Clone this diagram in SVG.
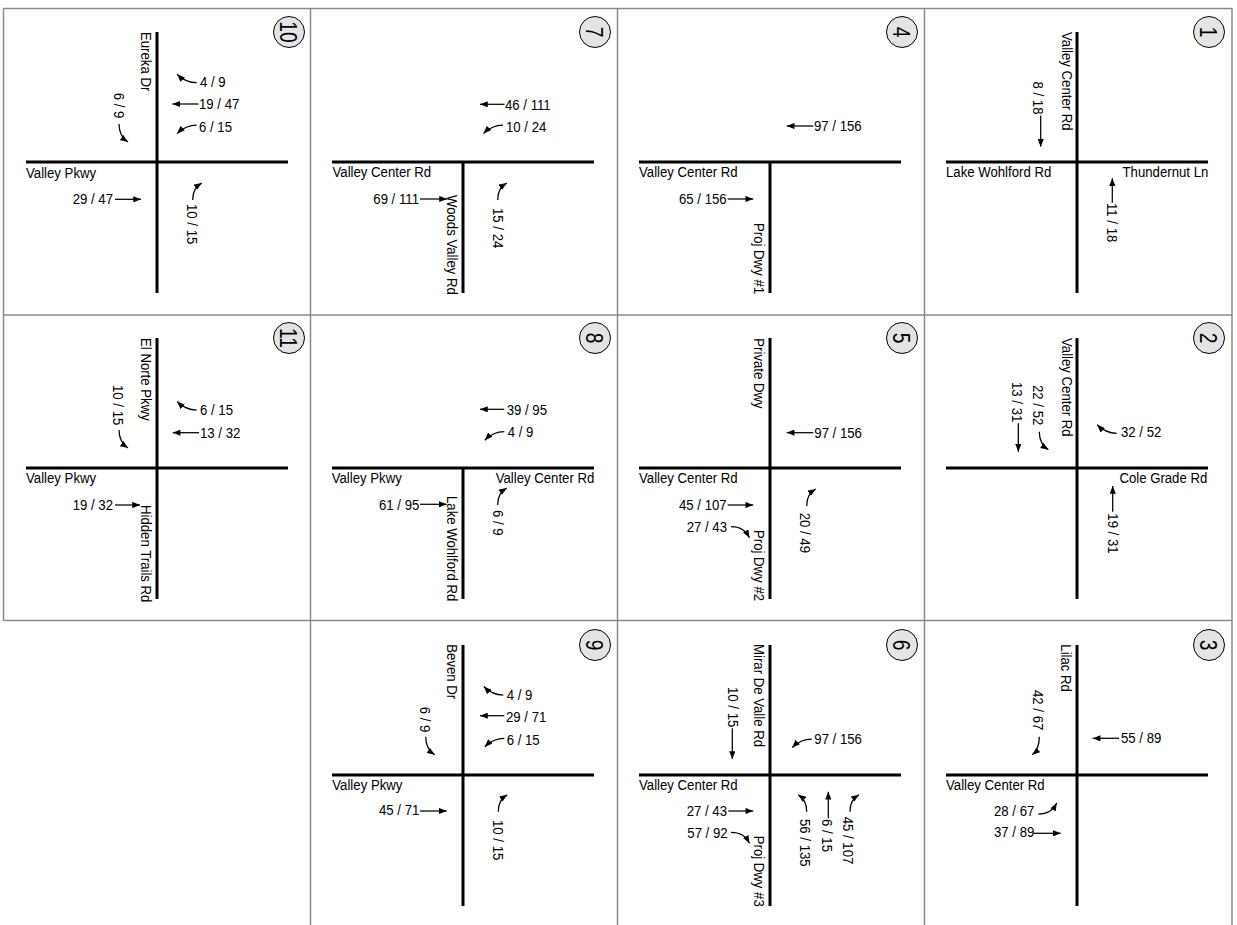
<svg xmlns="http://www.w3.org/2000/svg" width="1237" height="925" viewBox="0 0 1237 925">
<style>
.grid{stroke:#8a8a8a;stroke-width:1.5;fill:none}
.road{stroke:#000;stroke-width:3;fill:none}
.arr{stroke:#000;stroke-width:1.25;fill:none;marker-end:url(#ah)}
.lbl{font-family:'Liberation Sans',Arial,sans-serif;font-size:15px;fill:#000}
.end{text-anchor:end}
.badge{fill:#e4e4e4;stroke:#000;stroke-width:1}
.num{font-family:'Liberation Sans',Arial,sans-serif;font-size:24px;fill:#000;text-anchor:middle}
</style>
<defs>
<marker id="ah" viewBox="0 0 10 8" refX="10" refY="4" markerWidth="8" markerHeight="6.2" orient="auto" markerUnits="userSpaceOnUse"><path d="M0,0 L10,4 L0,8 z" fill="#000"/></marker>
</defs>
<rect width="1237" height="925" fill="#fff"/>
<g id="grid"><path class="grid" d="M3,8.5 H1232 M3,315 H1232 M3,620.5 H1232 M3.5,8 V620.5 M310.5,8 V925 M617.5,8 V925 M924.5,8 V925 M1232,8 V925"/></g>

<g id="int10" transform="translate(157,162)">
<path class="road" d="M0,-130 V131 M-131,0 H131"/>
<circle class="badge" cx="132" cy="-130" r="15.5"/><text class="num" transform="translate(132,-130) rotate(90) scale(.8,1)" y="8.6">10</text>
<text class="lbl" transform="translate(-16,-130) rotate(90) scale(.88,1)">Eureka Dr</text>
<text class="lbl" transform="translate(43,-75) scale(.88,1)">4 / 9</text>
<text class="lbl" transform="translate(42,-52.7) scale(.88,1)">19 / 47</text>
<text class="lbl" transform="translate(42,-30.3) scale(.88,1)">6 / 15</text>
<text class="lbl" transform="translate(-43.5,-69.3) rotate(90) scale(.88,1)">6 / 9</text>
<text class="lbl" transform="translate(-131,16.3) scale(.88,1)">Valley Pkwy</text>
<text class="lbl" transform="translate(-84.3,42) scale(.88,1)">29 / 47</text>
<text class="lbl" transform="translate(30,42) rotate(90) scale(.88,1)">10 / 15</text>
<g class="moves">
<path class="arr" d="M39.7,-79.3 c-9,0 -14,-3 -19.5,-8.5"/>
<path class="arr" d="M41.5,-58 H15.5"/>
<path class="arr" d="M39.7,-37 c-9,0 -14,3 -19.5,8.5"/>
<path class="arr" d="M-38,-38 c0,9 3,14 9,18"/>
<path class="arr" d="M-42,37.3 H-16"/>
<path class="arr" d="M35.7,38 c0,-9 3,-13 9,-17"/>
</g>
</g>

<g id="int7" transform="translate(463,162)">
<path class="road" d="M0,0 V131 M-131,0 H131"/>
<circle class="badge" cx="132" cy="-130" r="15.5"/><text class="num" transform="translate(132,-130) rotate(90) scale(.8,1)" y="8.6">7</text>
<text class="lbl" transform="translate(42,-52) scale(.88,1)">46 / 111</text>
<text class="lbl" transform="translate(43,-30.3) scale(.88,1)">10 / 24</text>
<text class="lbl" transform="translate(-130.5,14.7) scale(.88,1)">Valley Center Rd</text>
<text class="lbl" transform="translate(-89.7,42) scale(.88,1)">69 / 111</text>
<text class="lbl" transform="translate(-16,33) rotate(90) scale(.88,1)">Woods Valley Rd</text>
<text class="lbl" transform="translate(30,46) rotate(90) scale(.88,1)">15 / 24</text>
<g class="moves">
<path class="arr" d="M41.5,-57.7 H17"/>
<path class="arr" d="M40,-37 c-9,0 -14,3 -19.5,8.5"/>
<path class="arr" d="M-43,37 H-16"/>
<path class="arr" d="M34.7,38 c0,-9 3,-13 9,-17"/>
</g>
</g>

<g id="int4" transform="translate(770,162)">
<path class="road" d="M0,0 V131 M-131,0 H131"/>
<circle class="badge" cx="132" cy="-130" r="15.5"/><text class="num" transform="translate(132,-130) rotate(90) scale(.8,1)" y="8.6">4</text>
<text class="lbl" transform="translate(44,-31.3) scale(.88,1)">97 / 156</text>
<text class="lbl" transform="translate(-131,14.7) scale(.88,1)">Valley Center Rd</text>
<text class="lbl" transform="translate(-91,42) scale(.88,1)">65 / 156</text>
<text class="lbl" transform="translate(-16,61) rotate(90) scale(.88,1)">Proj Dwy #1</text>
<g class="moves">
<path class="arr" d="M43.3,-36 H16.7"/>
<path class="arr" d="M-42.3,37 H-16.7"/>
</g>
</g>

<g id="int1" transform="translate(1077,162)">
<path class="road" d="M0,-130 V131 M-131,0 H131"/>
<circle class="badge" cx="132" cy="-130" r="15.5"/><text class="num" transform="translate(132,-130) rotate(90) scale(.8,1)" y="8.6">1</text>
<text class="lbl" transform="translate(-15.5,-130) rotate(90) scale(.88,1)">Valley Center Rd</text>
<text class="lbl" transform="translate(-43.7,-80.5) rotate(90) scale(.88,1)">8 / 18</text>
<text class="lbl" transform="translate(-131,14.7) scale(.88,1)">Lake Wohlford Rd</text>
<text class="lbl end" transform="translate(131.3,14.7) scale(.88,1)">Thundernut Ln</text>
<text class="lbl" transform="translate(30.3,41) rotate(90) scale(.88,1)">11 / 18</text>
<g class="moves">
<path class="arr" d="M-36.3,-46.5 V-15.3"/>
<path class="arr" d="M35.3,40.7 V16.3"/>
</g>
</g>

<g id="int11" transform="translate(157,468)">
<path class="road" d="M0,-130 V131 M-131,0 H131"/>
<circle class="badge" cx="132" cy="-130" r="15.5"/><text class="num" transform="translate(132,-130) rotate(90) scale(.8,1)" y="8.6">11</text>
<text class="lbl" transform="translate(-16,-130) rotate(90) scale(.88,1)">El Norte Pkwy</text>
<text class="lbl" transform="translate(43,-53) scale(.88,1)">6 / 15</text>
<text class="lbl" transform="translate(43,-29.7) scale(.88,1)">13 / 32</text>
<text class="lbl" transform="translate(-43.7,-83) rotate(90) scale(.88,1)">10 / 15</text>
<text class="lbl" transform="translate(-131,15.3) scale(.88,1)">Valley Pkwy</text>
<text class="lbl" transform="translate(-84.3,42) scale(.88,1)">19 / 32</text>
<text class="lbl" transform="translate(-16,37) rotate(90) scale(.88,1)">Hidden Trails Rd</text>
<g class="moves">
<path class="arr" d="M39.7,-58 c-9,0 -14,-3 -19.5,-8.5"/>
<path class="arr" d="M42,-35.3 H15.7"/>
<path class="arr" d="M-38,-38 c0,9 3,14 9,18"/>
<path class="arr" d="M-42,37 H-17"/>
</g>
</g>

<g id="int8" transform="translate(463,468)">
<path class="road" d="M0,0 V131 M-131,0 H131"/>
<circle class="badge" cx="132" cy="-130" r="15.5"/><text class="num" transform="translate(132,-130) rotate(90) scale(.8,1)" y="8.6">8</text>
<text class="lbl" transform="translate(43.7,-53) scale(.88,1)">39 / 95</text>
<text class="lbl" transform="translate(44.7,-30.7) scale(.88,1)">4 / 9</text>
<text class="lbl" transform="translate(-131.3,15.3) scale(.88,1)">Valley Pkwy</text>
<text class="lbl end" transform="translate(131.3,15.3) scale(.88,1)">Valley Center Rd</text>
<text class="lbl" transform="translate(-84,42) scale(.88,1)">61 / 95</text>
<text class="lbl" transform="translate(-16,28) rotate(90) scale(.88,1)">Lake Wohlford Rd</text>
<text class="lbl" transform="translate(30.3,42) rotate(90) scale(.88,1)">6 / 9</text>
<g class="moves">
<path class="arr" d="M41.3,-58.7 H17"/>
<path class="arr" d="M41.3,-36.3 c-9,0 -14,3 -19.5,8.5"/>
<path class="arr" d="M-43,36.3 H-16.3"/>
<path class="arr" d="M34.7,37 c0,-9 3,-13 9,-17"/>
</g>
</g>

<g id="int5" transform="translate(770,468)">
<path class="road" d="M0,-130 V131 M-131,0 H131"/>
<circle class="badge" cx="132" cy="-130" r="15.5"/><text class="num" transform="translate(132,-130) rotate(90) scale(.8,1)" y="8.6">5</text>
<text class="lbl" transform="translate(-16,-129.7) rotate(90) scale(.88,1)">Private Dwy</text>
<text class="lbl" transform="translate(44.3,-30.3) scale(.88,1)">97 / 156</text>
<text class="lbl" transform="translate(-131,15.3) scale(.88,1)">Valley Center Rd</text>
<text class="lbl" transform="translate(-91,42) scale(.88,1)">45 / 107</text>
<text class="lbl" transform="translate(-83.3,63.7) scale(.88,1)">27 / 43</text>
<text class="lbl" transform="translate(-16,62) rotate(90) scale(.88,1)">Proj Dwy #2</text>
<text class="lbl" transform="translate(30,44.7) rotate(90) scale(.88,1)">20 / 49</text>
<g class="moves">
<path class="arr" d="M43.3,-35.3 H16.7"/>
<path class="arr" d="M-42.3,37 H-16.7"/>
<path class="arr" d="M-39,58.7 c9,0 14,3 18.5,11"/>
<path class="arr" d="M36.7,38 c0,-9 3,-13 9,-17"/>
</g>
</g>

<g id="int2" transform="translate(1077,468)">
<path class="road" d="M0,-130 V131 M-131,0 H131"/>
<circle class="badge" cx="132" cy="-130" r="15.5"/><text class="num" transform="translate(132,-130) rotate(90) scale(.8,1)" y="8.6">2</text>
<text class="lbl" transform="translate(-15.5,-130) rotate(90) scale(.88,1)">Valley Center Rd</text>
<text class="lbl" transform="translate(-43.7,-83) rotate(90) scale(.88,1)">22 / 52</text>
<text class="lbl" transform="translate(-65.3,-86) rotate(90) scale(.88,1)">13 / 31</text>
<text class="lbl" transform="translate(44,-30.7) scale(.88,1)">32 / 52</text>
<text class="lbl end" transform="translate(130.3,15.3) scale(.88,1)">Cole Grade Rd</text>
<text class="lbl" transform="translate(30.7,45.3) rotate(90) scale(.88,1)">19 / 31</text>
<g class="moves">
<path class="arr" d="M-37.7,-36.3 c0,9 3,14 9,18"/>
<path class="arr" d="M-58.7,-44.7 V-16.3"/>
<path class="arr" d="M39.7,-34.7 c-9,0 -14,-3 -19.5,-8.5"/>
<path class="arr" d="M35.7,43.7 V18"/>
</g>
</g>

<g id="int9" transform="translate(463,775)">
<path class="road" d="M0,-130 V131 M-131,0 H131"/>
<circle class="badge" cx="132" cy="-130" r="15.5"/><text class="num" transform="translate(132,-130) rotate(90) scale(.8,1)" y="8.6">9</text>
<text class="lbl" transform="translate(-16,-130.7) rotate(90) scale(.88,1)">Beven Dr</text>
<text class="lbl" transform="translate(43.7,-75) scale(.88,1)">4 / 9</text>
<text class="lbl" transform="translate(43,-53.3) scale(.88,1)">29 / 71</text>
<text class="lbl" transform="translate(43.7,-30) scale(.88,1)">6 / 15</text>
<text class="lbl" transform="translate(-43,-68.3) rotate(90) scale(.88,1)">6 / 9</text>
<text class="lbl" transform="translate(-130.7,15) scale(.88,1)">Valley Pkwy</text>
<text class="lbl" transform="translate(-84,40) scale(.88,1)">45 / 71</text>
<text class="lbl" transform="translate(30.3,45) rotate(90) scale(.88,1)">10 / 15</text>
<g class="moves">
<path class="arr" d="M40.3,-80 c-9,0 -14,-3 -19.5,-8.5"/>
<path class="arr" d="M41.3,-59.3 H17"/>
<path class="arr" d="M41.3,-36.7 c-9,0 -14,3 -19.5,8.5"/>
<path class="arr" d="M-37.3,-38.3 c0,9 3,14 9,18"/>
<path class="arr" d="M-43,36 H-16.3"/>
<path class="arr" d="M35.3,36.7 c0,-9 3,-13 9,-17"/>
</g>
</g>

<g id="int6" transform="translate(770,775)">
<path class="road" d="M0,-130 V131 M-131,0 H131"/>
<circle class="badge" cx="132" cy="-130" r="15.5"/><text class="num" transform="translate(132,-130) rotate(90) scale(.8,1)" y="8.6">6</text>
<text class="lbl" transform="translate(-16,-131) rotate(90) scale(.88,1)">Mirar De Valle Rd</text>
<text class="lbl" transform="translate(-42.3,-88) rotate(90) scale(.88,1)">10 / 15</text>
<text class="lbl" transform="translate(44.3,-31) scale(.88,1)">97 / 156</text>
<text class="lbl" transform="translate(-131,15) scale(.88,1)">Valley Center Rd</text>
<text class="lbl" transform="translate(-83.3,41) scale(.88,1)">27 / 43</text>
<text class="lbl" transform="translate(-82.7,62.7) scale(.88,1)">57 / 92</text>
<text class="lbl" transform="translate(-16,60.7) rotate(90) scale(.88,1)">Proj Dwy #3</text>
<text class="lbl" transform="translate(30,44) rotate(90) scale(.88,1)">56 / 135</text>
<text class="lbl" transform="translate(51.7,44) rotate(90) scale(.88,1)">6 / 15</text>
<text class="lbl" transform="translate(73.3,41.7) rotate(90) scale(.88,1)">45 / 107</text>
<g class="moves">
<path class="arr" d="M-37.7,-46.7 V-16"/>
<path class="arr" d="M41.7,-36 c-9,0 -14,3 -19.5,8.5"/>
<path class="arr" d="M-41.7,36 H-16.7"/>
<path class="arr" d="M-39,57.3 c9,0 14,3 18.5,11"/>
<path class="arr" d="M36.7,36.7 c0,-9 -3,-13 -8.5,-17"/>
<path class="arr" d="M58.3,43.3 V16.7"/>
<path class="arr" d="M80,36.7 c0,-9 3,-13 9,-17"/>
</g>
</g>

<g id="int3" transform="translate(1077,775)">
<path class="road" d="M0,-130 V131 M-131,0 H131"/>
<circle class="badge" cx="132" cy="-130" r="15.5"/><text class="num" transform="translate(132,-130) rotate(90) scale(.8,1)" y="8.6">3</text>
<text class="lbl" transform="translate(-16,-130.7) rotate(90) scale(.88,1)">Lilac Rd</text>
<text class="lbl" transform="translate(-43.7,-85) rotate(90) scale(.88,1)">42 / 67</text>
<text class="lbl" transform="translate(44,-31.7) scale(.88,1)">55 / 89</text>
<text class="lbl" transform="translate(-131,15) scale(.88,1)">Valley Center Rd</text>
<text class="lbl" transform="translate(-83,40.7) scale(.88,1)">28 / 67</text>
<text class="lbl" transform="translate(-83,61.7) scale(.88,1)">37 / 89</text>
<g class="moves">
<path class="arr" d="M-37.7,-38.3 c0,9 -2,14 -7,18"/>
<path class="arr" d="M42,-36.7 H15.7"/>
<path class="arr" d="M-38.7,39 c9,0 14,-3 18.5,-11"/>
<path class="arr" d="M-43.7,58.3 H-16.3"/>
</g>
</g>
</svg>
